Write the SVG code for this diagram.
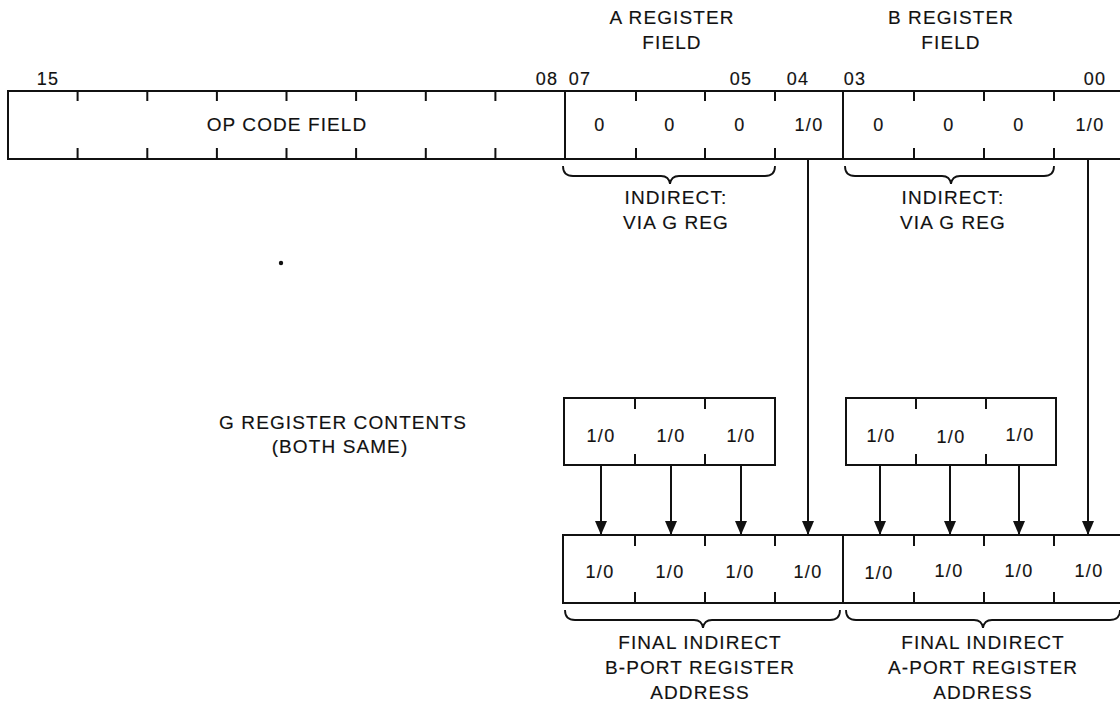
<svg xmlns="http://www.w3.org/2000/svg" width="1120" height="705" viewBox="0 0 1120 705">
<style>
text{font-family:"Liberation Sans",Arial,sans-serif;font-size:18px;fill:#111;stroke:#111;stroke-width:0.15;text-anchor:middle;letter-spacing:1.3px}
.lbl{font-size:19px;letter-spacing:1.1px}
.ln{stroke:#111;stroke-width:2;fill:none}
.br{stroke:#111;stroke-width:1.8;fill:none}
</style>
<defs>
<marker id="arr" markerUnits="userSpaceOnUse" markerWidth="14" markerHeight="12" refX="14" refY="6" orient="auto" viewBox="0 0 14 12">
<path d="M0,0 L14,6 L0,12 Z" fill="#111"/>
</marker>
</defs>

<g id="top-labels">
<text class="lbl" x="672" y="24">A REGISTER</text>
<text class="lbl" x="672" y="49">FIELD</text>
<text class="lbl" x="951" y="24">B REGISTER</text>
<text class="lbl" x="951" y="49">FIELD</text>
<text x="48" y="85">15</text>
<text x="547" y="85">08</text>
<text x="580" y="85">07</text>
<text x="741" y="85">05</text>
<text x="798" y="85">04</text>
<text x="855" y="85">03</text>
<text x="1095" y="85">00</text>
</g>

<g id="instruction-register">
<path class="ln" d="M1125,91 H8 V159 H1125"/>
<path class="ln" d="M565,91 V159 M843,91 V159"/>
<path class="ln" d="M77.6,91 v10 M147.3,91 v10 M216.9,91 v10 M286.5,91 v10 M356.1,91 v10 M425.8,91 v10 M495.4,91 v10
M77.6,159 v-11 M147.3,159 v-11 M216.9,159 v-11 M286.5,159 v-11 M356.1,159 v-11 M425.8,159 v-11 M495.4,159 v-11
M636,91 v10 M705,91 v10 M775,91 v10 M914,91 v10 M984,91 v10 M1054,91 v10
M636,159 v-11 M705,159 v-11 M775,159 v-11 M914,159 v-11 M984,159 v-11 M1054,159 v-11"/>
<text class="lbl" x="287" y="131">OP CODE FIELD</text>
<text x="600" y="131">0</text>
<text x="670" y="131">0</text>
<text x="740" y="131">0</text>
<text x="809" y="131">1/0</text>
<text x="879" y="131">0</text>
<text x="949" y="131">0</text>
<text x="1019" y="131">0</text>
<text x="1090" y="131">1/0</text>
</g>

<g id="indirect-a">
<path class="br" d="M563,166 Q563,176 573,176 L661,176 Q669,176 670,184 Q671,176 679,176 L765,176 Q775,176 775,166"/>
<text class="lbl" x="676" y="204">INDIRECT:</text>
<text class="lbl" x="676" y="229">VIA G REG</text>
</g>

<g id="indirect-b">
<path class="br" d="M845,166 Q845,176 855,176 L942,176 Q950,176 951,184 Q952,176 960,176 L1044,176 Q1054,176 1054,166"/>
<text class="lbl" x="953" y="204">INDIRECT:</text>
<text class="lbl" x="953" y="229">VIA G REG</text>
</g>

<circle cx="281" cy="263" r="2.2" fill="#111"/>

<g id="g-register-label">
<text class="lbl" x="343" y="429">G REGISTER CONTENTS</text>
<text class="lbl" x="340" y="453">(BOTH SAME)</text>
</g>

<g id="g-register-1">
<rect class="ln" x="564" y="398" width="211" height="67"/>
<path class="ln" d="M635,398 v11 M705,398 v11 M635,465 v-11 M705,465 v-11"/>
<text x="601" y="442">1/0</text>
<text x="671" y="442">1/0</text>
<text x="741" y="442">1/0</text>
</g>

<g id="g-register-2">
<rect class="ln" x="846" y="398" width="210" height="67"/>
<path class="ln" d="M916,398 v11 M986,398 v11 M916,465 v-11 M986,465 v-11"/>
<text x="881" y="442">1/0</text>
<text x="951" y="443">1/0</text>
<text x="1020" y="441">1/0</text>
</g>

<g id="connectors">
<path class="ln" marker-end="url(#arr)" d="M601,465 V535"/>
<path class="ln" marker-end="url(#arr)" d="M671,465 V535"/>
<path class="ln" marker-end="url(#arr)" d="M741,465 V535"/>
<path class="ln" marker-end="url(#arr)" d="M808,159 V535"/>
<path class="ln" marker-end="url(#arr)" d="M880,465 V535"/>
<path class="ln" marker-end="url(#arr)" d="M950,465 V535"/>
<path class="ln" marker-end="url(#arr)" d="M1019,465 V535"/>
<path class="ln" marker-end="url(#arr)" d="M1088,159 V535"/>
</g>

<g id="final-register">
<path class="ln" d="M1125,535 H563 V603 H1125"/>
<path class="ln" d="M843,535 V603"/>
<path class="ln" d="M635,535 v11 M705,535 v11 M775,535 v11 M914,535 v11 M984,535 v11 M1054,535 v11
M635,603 v-11 M705,603 v-11 M775,603 v-11 M914,603 v-11 M984,603 v-11 M1054,603 v-11"/>
<text x="600" y="578">1/0</text>
<text x="670" y="578">1/0</text>
<text x="740" y="578">1/0</text>
<text x="808" y="578">1/0</text>
<text x="879" y="579">1/0</text>
<text x="949" y="577">1/0</text>
<text x="1019" y="577">1/0</text>
<text x="1089" y="577">1/0</text>
</g>

<g id="final-b-port">
<path class="br" d="M565,610 Q565,620 575,620 L694,620 Q702,620 703,628 Q704,620 712,620 L830,620 Q840,620 840,610"/>
<text class="lbl" x="700" y="649">FINAL INDIRECT</text>
<text class="lbl" x="700" y="674">B-PORT REGISTER</text>
<text class="lbl" x="700" y="699">ADDRESS</text>
</g>

<g id="final-a-port">
<path class="br" d="M846,610 Q846,620 856,620 L974,620 Q982,620 983,628 Q984,620 992,620 L1110,620 Q1120,620 1120,610"/>
<text class="lbl" x="983" y="649">FINAL INDIRECT</text>
<text class="lbl" x="983" y="674">A-PORT REGISTER</text>
<text class="lbl" x="983" y="699">ADDRESS</text>
</g>
</svg>
